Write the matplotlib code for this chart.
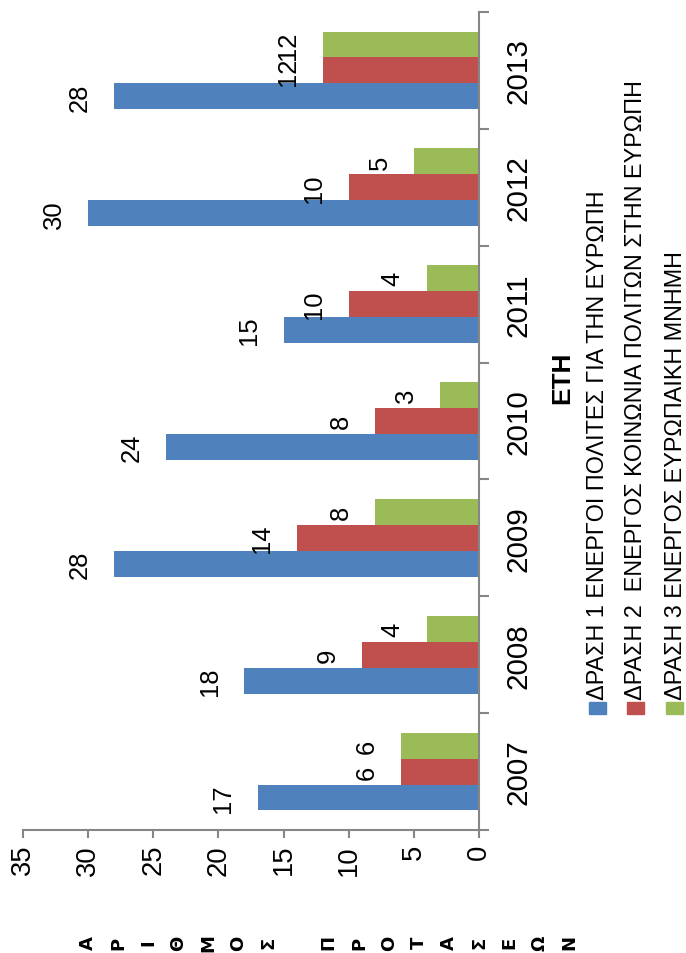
import numpy as np
import matplotlib
matplotlib.use("Agg")
import matplotlib.pyplot as plt
from matplotlib import font_manager
from matplotlib.patches import Rectangle

# Datos
years = ["2007", "2008", "2009", "2010", "2011", "2012", "2013"]
drasi1 = [17, 18, 28, 24, 15, 30, 28]
drasi2 = [6, 9, 14, 8, 10, 10, 12]
drasi3 = [6, 4, 8, 3, 4, 5, 12]
series_names = [
    "ΔΡΑΣΗ 1 ΕΝΕΡΓΟΙ ΠΟΛΙΤΕΣ ΓΙΑ ΤΗΝ ΕΥΡΩΠΗ",
    "ΔΡΑΣΗ 2  ΕΝΕΡΓΟΣ ΚΟΙΝΩΝΙΑ ΠΟΛΙΤΩΝ ΣΤΗΝ ΕΥΡΩΠΗ",
    "ΔΡΑΣΗ 3 ΕΝΕΡΓΟΣ ΕΥΡΩΠΑΙΚΗ ΜΝΗΜΗ",
]
colors = ["#4F81BD", "#C0504D", "#9BBB59"]
value_ticks = [0, 5, 10, 15, 20, 25, 30, 35]
x_title = "ΕΤΗ"
y_title = "ΑΡΙΘΜΟΣ ΠΡΟΤΑΣΕΩΝ"

# Fuente estrecha si existe
names = {f.name for f in font_manager.fontManager.ttflist}
if "Liberation Sans Narrow" in names:
    FONT = "Liberation Sans Narrow"
    k = 1.0
else:
    FONT = "Liberation Sans"
    k = 0.82
plt.rcParams["font.family"] = [FONT, "DejaVu Sans"]

W, H = 686, 954
fig = plt.figure(figsize=(W / 100, H / 100), dpi=100)
ax = fig.add_axes([23 / W, (H - 831) / H, (479 - 23) / W, (831 - 13) / H])

pos = np.arange(len(years))
w = 0.222
all_series = [drasi1, drasi2, drasi3]
for j, (vals, c) in enumerate(zip(all_series, colors)):
    ypos = pos + (j - 1) * w
    ax.barh(ypos, vals, w, color=c, edgecolor="none")
    for yy, v in zip(ypos, vals):
        ax.annotate(str(v), (v, yy), xytext=(-16, 0), textcoords="offset points",
                    rotation=90, ha="right", va="center", fontsize=22.5 * k)

ax.set_xlim(35, 0)
ax.set_ylim(-0.5, len(years) - 0.5)

gray = "#868686"
for s in ["left", "top"]:
    ax.spines[s].set_visible(False)
for s in ["right", "bottom"]:
    ax.spines[s].set_color(gray)
    ax.spines[s].set_linewidth(1.5)

ax.set_xticks(value_ticks)
ax.set_xticklabels([str(v) for v in value_ticks], rotation=90, fontsize=24 * k)
ax.tick_params(axis="x", direction="out", length=6, width=1.5, color=gray, pad=4)

ax.yaxis.tick_right()
ax.set_yticks(np.arange(-0.5, len(years), 1.0))
ax.set_yticklabels([])
ax.set_yticks(pos, minor=True)
ax.set_yticklabels(years, minor=True, rotation=90, va="center", fontsize=26 * k)
ax.tick_params(axis="y", which="major", direction="out", length=7, width=1.5, color=gray)
ax.tick_params(axis="y", which="minor", length=0, pad=18)

# Titulo del eje de categorias
fig.text(562 / W, 1 - 378 / H, x_title, rotation=90, ha="center", va="center",
         fontsize=23 * k, fontweight="bold")

# Titulo del eje de valores (letras apiladas)
for i, ch in enumerate(y_title):
    if ch == " ":
        continue
    fig.text((88 + 30.1 * i) / W, 1 - 943 / H, ch, rotation=90, ha="center",
             va="center", fontsize=13, fontweight="bold", family="DejaVu Sans")

# Leyenda manual
leg_x = [598, 636, 675]
for xc, name, c in zip(leg_x, series_names, colors):
    fig.patches.append(Rectangle(((xc - 9) / W, 1 - 715 / H), 17 / W, 12 / H,
                                 transform=fig.transFigure, color=c))
    fig.text(xc / W, 1 - 700 / H, name, rotation=90, ha="center", va="bottom",
             fontsize=20.5 * k)

fig.savefig("out.png", dpi=100)
